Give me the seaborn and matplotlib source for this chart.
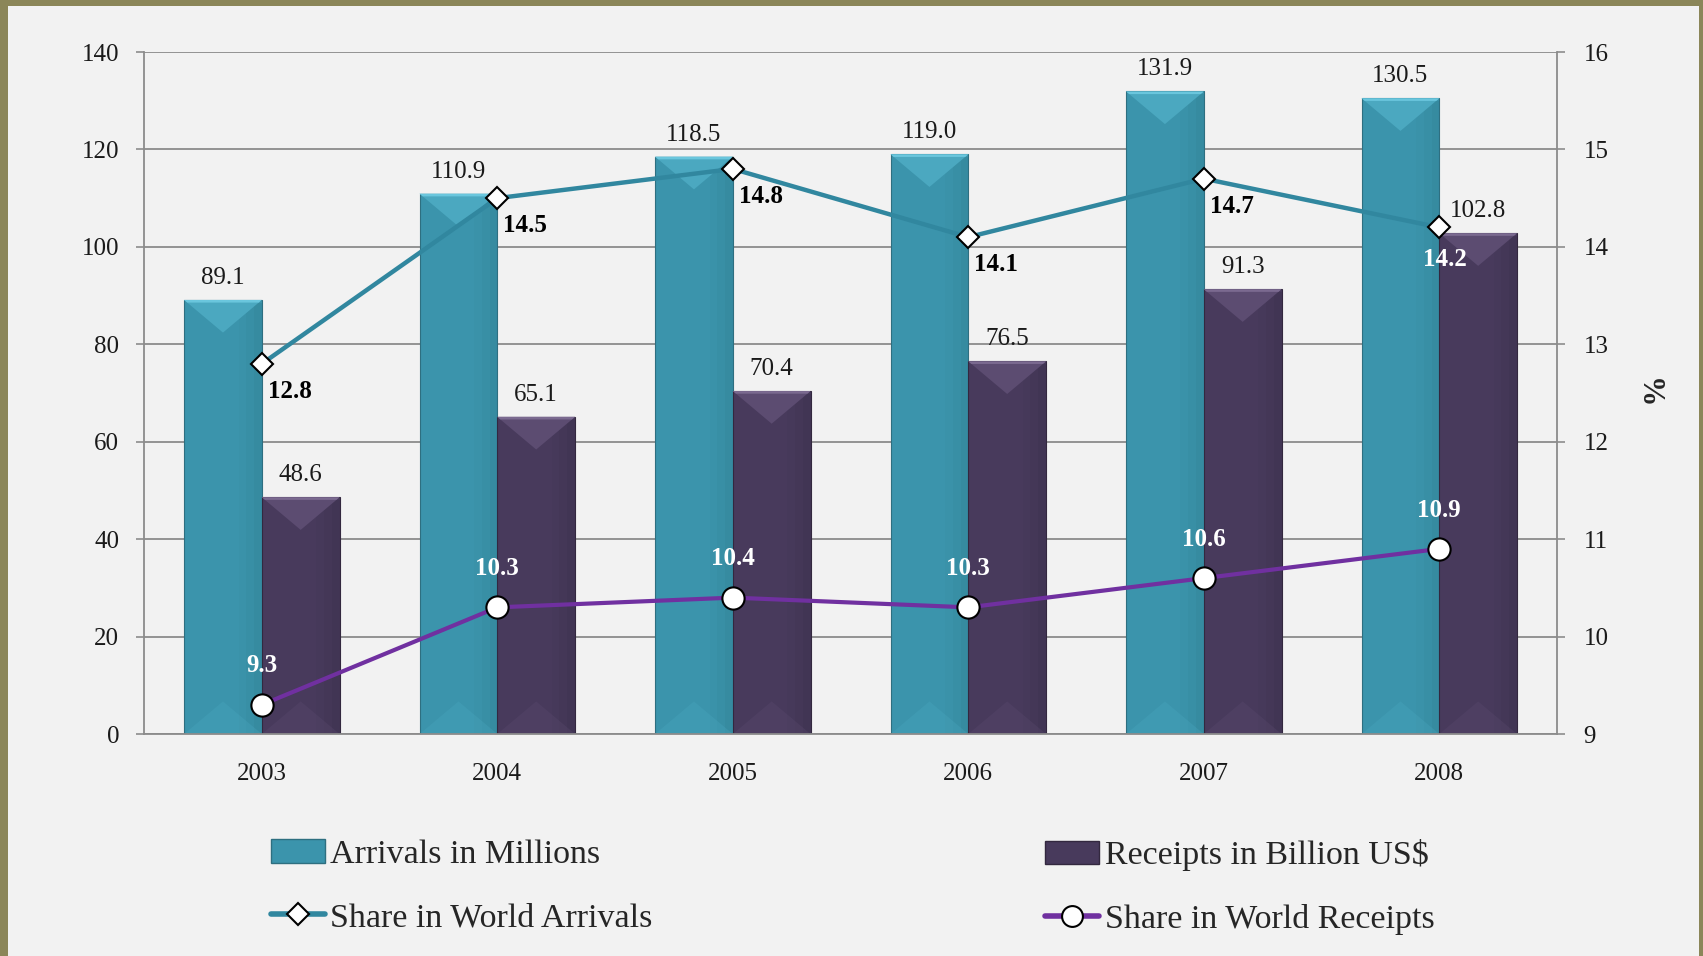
import numpy as np
import pandas as pd
import seaborn as sns
import matplotlib.pyplot as plt
from matplotlib.patches import Polygon, Rectangle, Patch
from matplotlib.lines import Line2D

# data
years = ['2003', '2004', '2005', '2006', '2007', '2008']
arrivals = [89.1, 110.9, 118.5, 119.0, 131.9, 130.5]
receipts = [48.6, 65.1, 70.4, 76.5, 91.3, 102.8]
share_arrivals = [12.8, 14.5, 14.8, 14.1, 14.7, 14.2]
share_receipts = [9.3, 10.3, 10.4, 10.3, 10.6, 10.9]

bar_names = ['Arrivals in Millions', 'Receipts in Billion US$']
line_names = ['Share in World Arrivals', 'Share in World Receipts']

df = pd.DataFrame({
    'year': years * 2,
    'value': arrivals + receipts,
    'series': [bar_names[0]] * 6 + [bar_names[1]] * 6,
})

sns.set_style('white')
plt.rcParams['font.family'] = ['Liberation Serif', 'DejaVu Serif']

teal = '#3B94AC'
purple = '#483A5C'
teal_line = '#31879F'
purple_line = '#7030A0'
grid_c = '#8C8C8C'

fig = plt.figure(figsize=(17.03, 9.56), dpi=100, facecolor='#8B8659')
fig.patches.append(Rectangle((8 / 1703, 0), (1699 - 8) / 1703, 1 - 6 / 956,
                             transform=fig.transFigure, facecolor='#F2F2F2',
                             edgecolor='none', zorder=-1))

ax = fig.add_axes([0.0846, 0.2322, 0.8297, 0.7134])
ax.set_facecolor('#F2F2F2')

sns.barplot(data=df, x='year', y='value', hue='series', palette=[teal, purple],
            width=0.66, saturation=1, ax=ax, legend=False,
            edgecolor='#2E6F80', linewidth=0.8)
ax.set_ylim(0, 140)
ax.set_xlim(-0.5, 5.5)
ax.set_yticks(range(0, 141, 20))
ax.set_xlabel('')
ax.set_ylabel('')
ax.yaxis.grid(True, color=grid_c, lw=1.3)
ax.set_axisbelow(True)

# bevel look on the bars
pos = ax.get_position()
px_x = pos.width * 1703 / 6
px_y = pos.height * 956 / 140
light = {teal: ('#4BA8C0', '#6AC6DD', '#2F7D92'), purple: ('#5C4C71', '#7B6A90', '#3A2E4A')}
for i, p in enumerate(ax.patches):
    x, w, h = p.get_x(), p.get_width(), p.get_height()
    if h <= 0:
        continue
    base = teal if i < 6 else purple
    tri, edge, dark = light[base]
    if i >= 6:
        p.set_edgecolor('#33283F')
    d = 0.42 * w * px_x / px_y
    ax.add_patch(Polygon([(x, h), (x + w, h), (x + w / 2, h - d)], closed=True,
                         facecolor=tri, edgecolor='none', zorder=2.1))
    ax.add_patch(Polygon([(x, h), (x + w, h), (x + w * 0.96, h - d * 0.08),
                          (x + w * 0.04, h - d * 0.08)], closed=True,
                         facecolor=edge, edgecolor='none', zorder=2.2))
    ax.add_patch(Polygon([(x, 0), (x + w, 0), (x + w / 2, d)], closed=True,
                         facecolor=tri, alpha=0.3, edgecolor='none', zorder=2.1))
    for k, a in enumerate([0.08, 0.14, 0.22]):
        ax.add_patch(Rectangle((x + w * (0.7 + 0.1 * k), 0), w * (0.3 - 0.1 * k), h - d * 0.08,
                               facecolor=dark, alpha=a, edgecolor='none', zorder=2.05))

for c in ax.containers:
    ax.bar_label(c, fmt='%.1f', padding=8, fontsize=18, color='#1A1A1A')

ax.set_xticks(np.arange(-0.5, 6, 1), minor=True)
ax.tick_params(axis='x', which='major', length=0, pad=21, labelsize=18, labelcolor='#1A1A1A')
ax.tick_params(axis='x', which='minor', length=6, width=1.2, color=grid_c, direction='out')
ax.tick_params(axis='y', length=6, width=1.2, color=grid_c, direction='out', pad=12,
               labelsize=18, labelcolor='#1A1A1A')
for s in ['top', 'right']:
    ax.spines[s].set_visible(False)
for s in ['left', 'bottom']:
    ax.spines[s].set_color(grid_c)
    ax.spines[s].set_linewidth(1.3)

# share lines on the right axis
ax2 = ax.twinx()
ax2.set_ylim(9, 16)
ax2.set_yticks(range(9, 17))
xs = np.arange(len(years))
ax2.plot(xs, share_arrivals, color=teal_line, lw=3.2, marker='D', ms=11,
         mfc='white', mec='black', mew=1.5, zorder=3)
ax2.plot(xs, share_receipts, color=purple_line, lw=3.0, marker='o', ms=16,
         mfc='white', mec='black', mew=1.5, zorder=3)

for i, v in enumerate(share_arrivals):
    last = i == len(share_arrivals) - 1
    ax2.annotate(f'{v:.1f}', (i, v), xytext=(4, -23) if last else (20, -20),
                 textcoords='offset points', ha='center', va='center',
                 fontsize=18, fontweight='bold', color='white' if last else 'black')
for i, v in enumerate(share_receipts):
    ax2.annotate(f'{v:.1f}', (i, v), xytext=(0, 28), textcoords='offset points',
                 ha='center', va='center', fontsize=18, fontweight='bold', color='white')

ax2.tick_params(axis='y', length=6, width=1.2, color=grid_c, direction='out', pad=13,
                labelsize=18, labelcolor='#1A1A1A')
for s in ['top', 'left', 'bottom']:
    ax2.spines[s].set_visible(False)
ax2.spines['right'].set_color(grid_c)
ax2.spines['right'].set_linewidth(1.3)
ax2.set_ylabel('%', rotation=270, fontsize=22, fontweight='bold', ha='center', va='center')
ax2.yaxis.set_label_coords(1.0637, 0.5)

# legend in two columns
h_arr = Patch(facecolor=teal, edgecolor='#2E6F80')
h_rec = Patch(facecolor=purple, edgecolor='#33283F')
h_sa = Line2D([], [], color=teal_line, lw=4, marker='D', ms=11, mfc='white', mec='black', mew=1.5)
h_sr = Line2D([], [], color=purple_line, lw=4, marker='o', ms=15, mfc='white', mec='black', mew=1.5)
leg_kw = dict(loc='upper left', frameon=False, fontsize=24.5, handlelength=1.6,
              handletextpad=0.15, labelspacing=0.95, borderpad=0, borderaxespad=0)
fig.legend([h_arr, h_sa], [bar_names[0], line_names[0]], bbox_to_anchor=(0.159, 0.122), **leg_kw)
fig.legend([h_rec, h_sr], [bar_names[1], line_names[1]], bbox_to_anchor=(0.6136, 0.122), **leg_kw)

fig.savefig('out.png', dpi=100, facecolor=fig.get_facecolor())
